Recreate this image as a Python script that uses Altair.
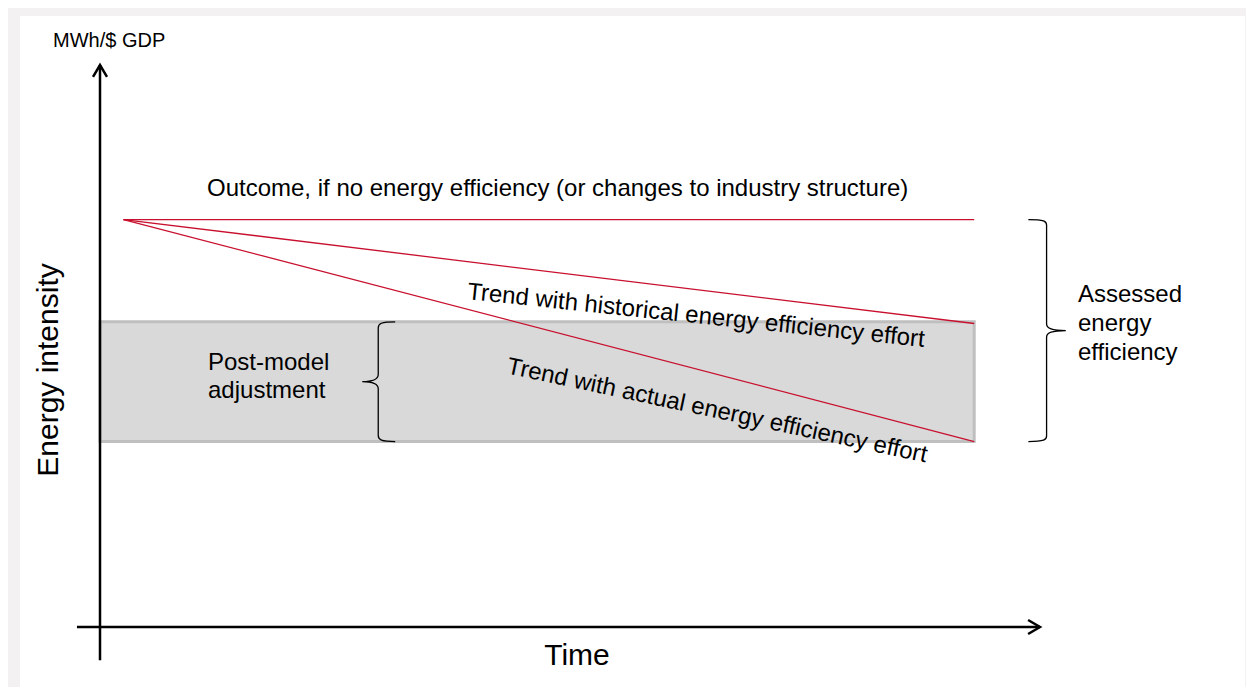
import altair as alt
import pandas as pd

# ---- conceptual data (time, energy intensity) ----
series = ["Outcome, if no energy efficiency", "Trend with historical energy efficiency effort",
          "Trend with actual energy efficiency effort"]
start_time = [0.25, 0.25, 0.25]
start_intensity = [7.25, 7.25, 7.25]
end_time = [9.3, 9.3, 9.3]
end_intensity = [7.25, 5.4, 3.3]

band_time = [0.0, 9.3]
band_intensity = [3.3, 5.43]

FONT = "Liberation Sans"
RED = "#c8102e"

trends = pd.DataFrame({"series": series, "t0": start_time, "i0": start_intensity,
                       "t1": end_time, "i1": end_intensity})
band = pd.DataFrame({"t0": [band_time[0]], "t1": [band_time[1]],
                     "i0": [band_intensity[0]], "i1": [band_intensity[1]]})

xs = alt.Scale(domain=[0, 10], range=[92, 1032], nice=False, zero=False)
ys = alt.Scale(domain=[0, 10], range=[619, 57], nice=False, zero=False)
X = lambda f: alt.X(f, type="quantitative", scale=xs, axis=None)
Y = lambda f: alt.Y(f, type="quantitative", scale=ys, axis=None)

one = pd.DataFrame({"k": [0]})

panel = alt.Chart(one).mark_rect(fill="white").encode(
    x=alt.value(12), x2=alt.value(1237), y=alt.value(8), y2=alt.value(680))

band_layer = alt.Chart(band).mark_rect(fill="#d9d9d9", stroke="#bfbfbf", strokeWidth=3).encode(
    x=X("t0"), x2="t1", y=Y("i0"), y2="i1")

trend_layer = alt.Chart(trends).mark_rule(color=RED, strokeWidth=1.3).encode(
    x=X("t0"), y=Y("i0"), x2="t1", y2="i1")

yaxis = alt.Chart(one).mark_rule(color="black", strokeWidth=2.5).encode(
    x=alt.datum(0, scale=xs, axis=None), y=alt.datum(-0.59, scale=ys, axis=None), y2=alt.datum(10))
xaxis = alt.Chart(one).mark_rule(color="black", strokeWidth=2.5).encode(
    x=alt.datum(-0.245), x2=alt.datum(10), y=alt.datum(0))

up_arrow = alt.Chart(one).mark_point(shape="M-1,1.7L0,0L1,1.7", size=196, filled=False,
                                     color="black", strokeWidth=2.5, opacity=1).encode(
    x=alt.datum(0), y=alt.datum(10))
right_arrow = alt.Chart(one).mark_point(shape="M-1.7,-1L0,0L-1.7,1", size=196, filled=False,
                                        color="black", strokeWidth=2.5, opacity=1).encode(
    x=alt.datum(10), y=alt.datum(0))

left_brace = alt.Chart(one).mark_point(
    shape="M0.283,-1C0.05,-1 0,-0.97 0,-0.9L0,-0.12C0,-0.04 -0.1,0 -0.267,0C-0.1,0 0,0.04 0,0.12L0,0.9C0,0.97 0.05,1 0.283,1",
    size=14330, filled=False, color="black", strokeWidth=1.3, opacity=1).encode(
    x=alt.datum(2.96), y=alt.datum(4.365))
right_brace = alt.Chart(one).mark_point(
    shape="M-0.164,-1C-0.02,-1 0,-0.985 0,-0.95L0,-0.06C0,-0.02 0.05,0 0.173,0C0.05,0 0,0.02 0,0.06L0,0.95C0,0.985 -0.02,1 -0.164,1",
    size=49284, filled=False, color="black", strokeWidth=1.3, opacity=1).encode(
    x=alt.datum(10.07), y=alt.datum(5.275))

def label(text, x, y, size=24, align="left", baseline="alphabetic", angle=0, lh=None):
    kw = dict(align=align, baseline=baseline, font=FONT, fontSize=size, color="black", lineBreak="\n")
    if angle:
        kw["angle"] = angle
    if lh:
        kw["lineHeight"] = lh
    return alt.Chart(pd.DataFrame({"label": [text]})).mark_text(**kw).encode(
        text="label:N", x=alt.value(x), y=alt.value(y))

texts = [
    label("MWh/$ GDP", 45, 39, size=20),
    label("Energy intensity", 41, 362, size=30, align="center", baseline="middle", angle=270),
    label("Time", 569, 657, size=30, align="center"),
    label("Outcome, if no energy efficiency (or changes to industry structure)", 199, 188),
    label("Trend with historical energy efficiency effort", 688, 308, align="center", baseline="middle", angle=6),
    label("Trend with actual energy efficiency effort", 709, 403, align="center", baseline="middle", angle=12),
    label("Post-model\nadjustment", 200, 362, lh=28),
    label("Assessed\nenergy\nefficiency", 1070, 294, lh=29),
]

chart = alt.layer(panel, band_layer, trend_layer, yaxis, xaxis, up_arrow, right_arrow,
                  left_brace, right_brace, *texts).properties(
    width=1238, height=679, padding=0, background="#f3f1f2",
    autosize=alt.AutoSizeParams(type="none")
).configure_view(stroke=None)

chart.save("out.html", embed_options={"renderer": "svg", "actions": False})
